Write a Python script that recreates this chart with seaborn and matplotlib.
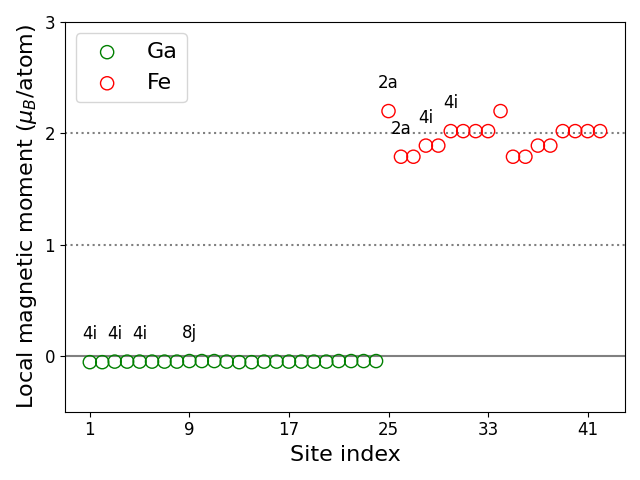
import matplotlib
matplotlib.use("Agg")
import matplotlib.pyplot as plt
import seaborn as sns
import numpy as np

ga_sites = list(range(1, 25))
ga_moments = [-0.055, -0.055, -0.05, -0.05, -0.05, -0.05, -0.05, -0.05, -0.045, -0.045,
              -0.045, -0.05, -0.055, -0.055, -0.05, -0.05, -0.05, -0.05, -0.05, -0.05,
              -0.045, -0.045, -0.045, -0.045]
fe_sites = list(range(25, 43))
fe_moments = [2.2, 1.79, 1.79, 1.89, 1.89, 2.02, 2.02, 2.02, 2.02,
              2.2, 1.79, 1.79, 1.89, 1.89, 2.02, 2.02, 2.02, 2.02]
label_sites = [1, 3, 5, 9, 25, 26, 28, 30]
label_texts = ["4i", "4i", "4i", "8j", "2a", "2a", "4i", "4i"]
xticks = [1, 9, 17, 25, 33, 41]

fig, ax = plt.subplots(figsize=(6.4, 4.8), dpi=100)
sns.scatterplot(x=ga_sites, y=ga_moments, ax=ax, marker='o', s=90,
                facecolors='none', edgecolors='green', linewidths=1.0, label='Ga')
sns.scatterplot(x=fe_sites, y=fe_moments, ax=ax, marker='o', s=90,
                facecolors='none', edgecolors='red', linewidths=1.0, label='Fe')

ax.axhline(0, color='gray', lw=1.5, zorder=0)
ax.axhline(1, color='gray', lw=1.5, ls=':', zorder=0)
ax.axhline(2, color='gray', lw=1.5, ls=':', zorder=0)

all_sites = ga_sites + fe_sites
all_m = ga_moments + fe_moments
for s, t in zip(label_sites, label_texts):
    ax.text(s, all_m[all_sites.index(s)] + 0.25, t, ha='center', va='center', fontsize=12)

ax.set_xlim(-1, 44)
ax.set_ylim(-0.5, 3)
ax.set_xticks(xticks)
ax.set_yticks([0, 1, 2, 3])
ax.tick_params(labelsize=12)
ax.set_xlabel('Site index', fontsize=16)
ax.set_ylabel(r'Local magnetic moment ($\mu_B$/atom)', fontsize=16)
ax.legend(loc='upper left', fontsize=16)
fig.tight_layout()
fig.savefig('out.png', dpi=100)
